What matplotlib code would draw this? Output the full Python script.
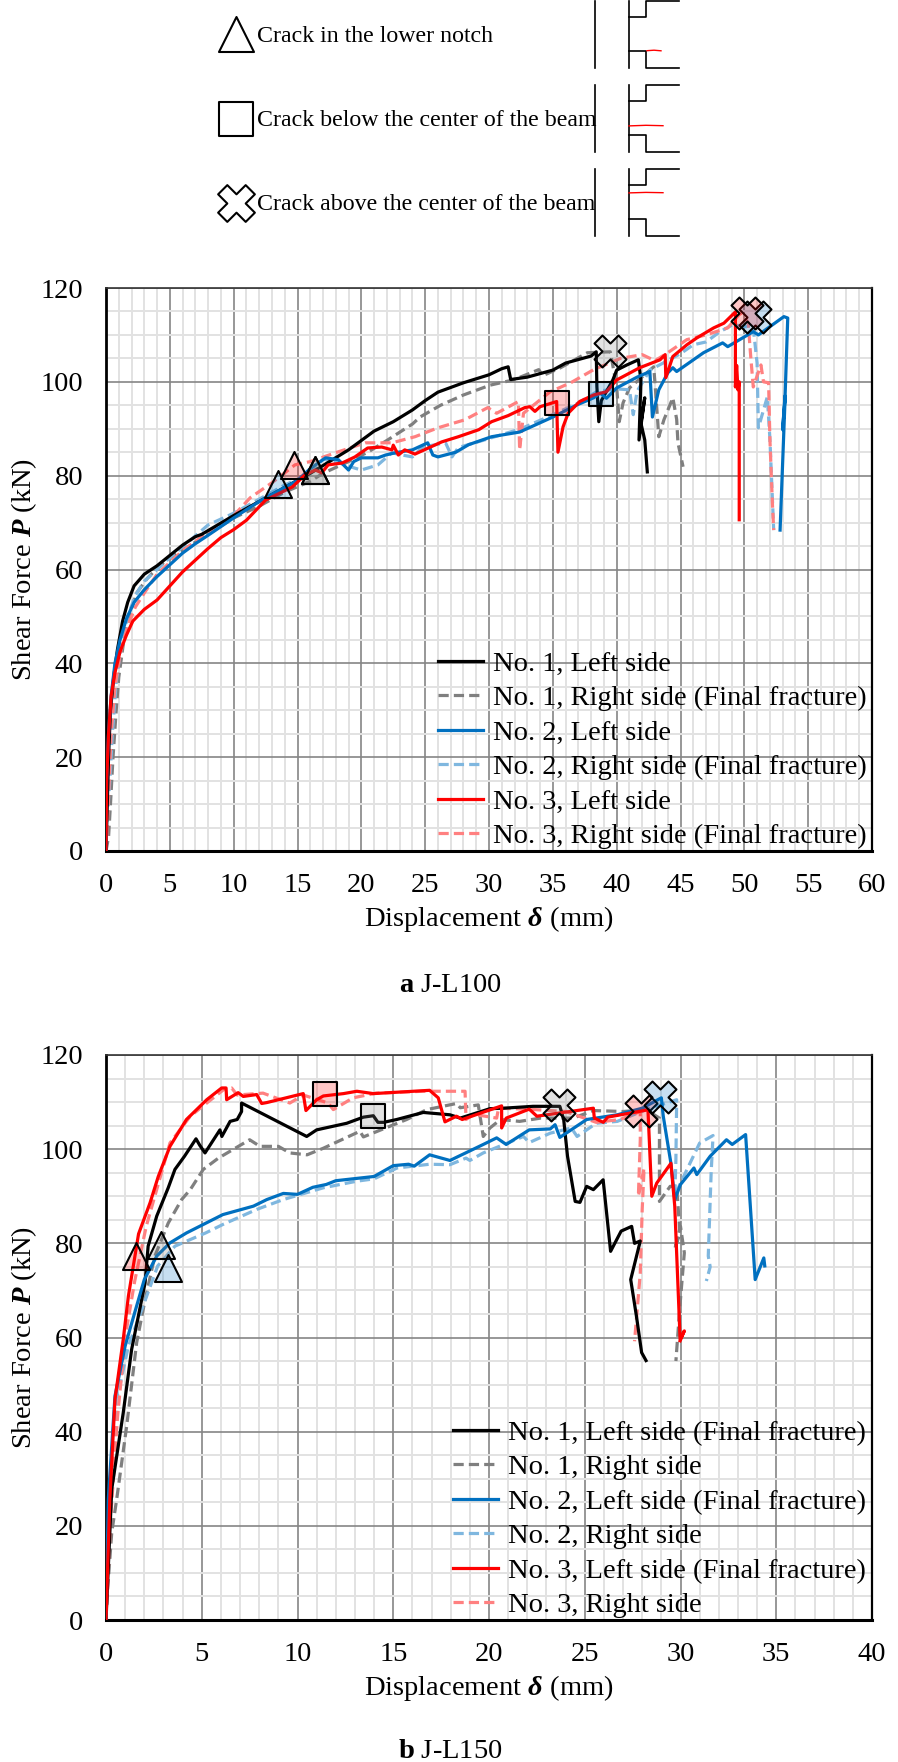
import matplotlib
matplotlib.use("Agg")
import matplotlib.pyplot as plt
from matplotlib.lines import Line2D

W, H = 898, 1762
plt.rcParams['font.family'] = ['Liberation Serif', 'DejaVu Serif']
plt.rcParams['mathtext.fontset'] = 'custom'
plt.rcParams['mathtext.rm'] = 'Liberation Serif'
plt.rcParams['mathtext.it'] = 'Liberation Serif:italic'
plt.rcParams['mathtext.bf'] = 'Liberation Serif:bold'
plt.rcParams['mathtext.bfit'] = 'Liberation Serif:italic:bold'

# ---- chart a: J-L100 ----
a1L_x = [0,0.1,0.2,0.35,0.6,0.9,1.3,1.7,2.2,3,4,5,6,7,7.5,10,12,14,16,17.5,19,20,21,22.5,24,25,26,27,28,30,31,31.5,31.7,33,35,36,38,38.4,38.45,38.6,38.8,39.7,40,40.8,41.7,41.9,41.75,42.2,41.9,42.2,42.4]
a1L_y = [0,10,20,30,37,43,49,53,56.5,59,60.8,63,65.2,67,67.5,71.5,74.5,77.5,80.5,83,85.5,87.5,89.5,91.5,94,96,97.8,98.8,99.8,101.5,102.8,103.2,100.5,101,102.5,104,105.5,106.4,99,91.5,96,100.4,102.5,103.6,104.7,100.4,87.6,96.6,91.2,87.6,80.8]
a1R_x = [0,0.2,0.35,0.55,0.8,1,1.4,1.8,2.4,3.2,4,5,6.5,8,10,12,14,16,17,19,20.5,22,24,24.6,26.2,28,30.1,31.9,33.9,34.2,35.6,37.7,39.5,40,40.2,40.5,41,42.9,43,43.3,43.7,44.4,44.7,44.8,45.2]
a1R_y = [0,3,10,20,30,37,45,50,55,58,60.3,62.5,65,67.5,71,73.5,76.5,78.8,80.5,83,85,87.5,91,92.5,95,97.2,99.3,100.4,102.6,101.3,103,106.2,106.4,99,91.5,95.5,98.7,103.2,99.8,88.3,91.9,96.6,92,87,81.9]
a2L_x = [0,0.05,0.2,0.4,0.7,1.1,1.6,2.2,3,4,5,6,7,8,10,12,14,15,16,17.2,18.2,19,19.4,20,21.3,21.9,22.7,24,25.2,25.6,26,27.4,28.4,30.2,32.4,35,36.9,38.2,38.7,39.2,40,41.6,42.6,42.8,43.3,44,44.4,44.7,46.8,48.3,48.7,50.7,51.1,53.1,53.4,53.2,53,53.2,52.8]
a2L_y = [0,15,25,33,40,45,49.5,53,55.7,58.5,61,63.5,65.5,67.3,71,74.5,77.5,79,81.5,83.8,83.4,81.2,83,83.8,83.8,84.4,84.9,85.5,87,84.4,84,85,86.6,88.3,89.3,92.5,95.1,96.6,97.6,96.5,98.7,101,102.2,92.5,98.3,101.9,103,102.2,106.2,108.3,107.5,110.7,110,113.9,113.6,97.6,89.8,97,68.4]
a2R_x = [0,0.3,0.5,0.8,1.2,1.7,2.3,3,4,5,6.5,8,10,12,14,16,17,18,19,20,21.3,22.4,23,24,24.8,26.6,27.1,27.6,29.5,32.5,35,37,38.5,40,41,41.3,41.6,42.6,45,46,47,48.1,49.1,50.7,51,51.1,51.8,52,52.3]
a2R_y = [3,15,25,36,44,50,54.5,57.5,60,62.5,66,69.5,72,75,78,80.5,83.5,83,82,81.2,82.3,84.9,84.5,84,86.1,87,84,86,87.5,90,93,95.5,98,98.5,98.3,93,98,102.5,106,107.9,108.5,110.7,112.2,111.5,104,90.2,96.8,88,68.4]
a3L_x = [0,0.05,0.2,0.4,0.7,1.1,1.6,2.1,3,4,5,6,7,8,9,10,11,12.5,14.6,15.6,16.4,16.9,17.4,18.5,19.5,20.5,21.6,22.4,22.5,22.9,23.4,24.2,26.3,27.6,29.2,30.2,31.5,32.8,33.2,33.6,34,35.3,35.4,35.8,36.2,37.1,38.2,39.2,40,41.8,43.4,43.8,43.85,44.4,45.5,46.3,47.6,48.4,49.3,49.3,49.4,49.5,49.6,49.6]
a3L_y = [0,15,25,33,38,42.5,46,49,51.5,53.5,56.5,59.5,62,64.5,66.8,68.5,70.5,74.8,77.6,80.2,81.2,80.6,82.3,82.7,84,85.9,86.1,85.5,86.5,84.4,85.5,84.6,87.2,88.3,89.8,91.5,92.8,94.5,94.7,93.7,94.7,95.8,85,90.4,93.3,95.8,97.2,97.9,100.4,103,104.7,105.8,100.9,105.4,107.9,109.4,111.5,112.5,114.9,98.9,103.5,98.3,100,70.6]
a3R_x = [0,0.1,0.4,0.7,1.1,1.7,2.3,3,4,5,6,7,8,10,11.3,13,14.8,16,18,20.3,22.4,24.2,26,28.1,29.9,30.6,32.3,32.4,32.7,34.8,36.4,38.2,40.3,42,43,44,45.5,47,48.7,49.7,50.3,50.5,50.7,51.3,51.5,51.9,52,52.2,52.3]
a3R_y = [0,5,25,35,42,48,52,55,59,61.5,64,66,68,71.5,75.3,78.5,82.3,83,84.9,87,87,88.3,90.2,91.9,94.5,93.3,95.8,85.5,93.3,97.9,99.8,102.6,105,105.8,104.5,106.2,109,110,111.5,114.7,112.6,105.4,98.9,103.6,100,99.8,88,74,68.4]

a_tri_x = [13.5, 16.4, 16.4, 14.7]
a_tri_y = [78.3, 81.3, 81.3, 82.3]
a_tri_c = ['#0070C0', '#7F7F7F', '#7F7F7F', '#FF0000']
a_sq_x = [38.8, 35.3]
a_sq_y = [97.5, 95.5]
a_sq_c = ['#0070C0', '#FF0000']
a_x_x = [39.5, 50.8, 50.2]
a_x_y = [106.6, 113.9, 114.7]
a_x_c = ['#7F7F7F', '#0070C0', '#FF0000']

# ---- chart b: J-L150 ----
b1L_x = [0,0.3,0.9,1.34,2.04,2.2,2.65,3.25,3.6,4.1,4.7,4.9,5.17,5.95,6.05,6.48,6.85,7.08,7.08,10.48,11,12.57,13.44,13.96,14.2,14.5,15.18,16.57,17.96,18.5,20.05,20.75,22.3,23.7,23.9,24.1,24.5,24.75,25.1,25.45,25.96,26.35,26.9,27.45,27.6,27.9,27.4,27.7,27.97,28.2]
b1L_y = [0,27.8,44,57.5,71.6,79.4,85.8,91.8,95.7,98.5,102.2,100.8,99.2,104.1,102.7,105.9,106.3,108,109.8,102.7,104.1,105.5,106.8,107.1,105.7,105.7,106.3,107.8,107.3,106.6,108.6,108.7,109.1,109.1,106.3,98.5,88.9,88.7,92.1,91.4,93.5,78.3,82.6,83.6,80,80.5,72.3,64.5,56.8,55.1]
b1R_x = [0,0.05,0.3,0.56,1.08,1.6,2.04,2.55,3.25,3.95,4.4,5.08,5.87,7.5,8.04,9,9.6,10.5,11.35,13.26,13.44,15.7,16.75,18.3,18.5,19.44,19.7,20.05,20.6,21.6,22.7,24.4,25.45,27,28.2,28.9,28.9,29.46,29.8,29.97,29.7,30,30.2,29.97,29.76]
b1R_y = [0,4.5,18.6,25.7,41.2,58.9,68,77.3,84.3,89.3,91.4,95.7,98.1,102,100.6,100.6,99.2,98.8,100.2,103.8,102.6,106.3,108.4,109.7,108.8,109.4,102.7,104.5,106.3,105.9,106.6,106.6,108.2,108,108.4,106.6,88.9,92.1,92.1,82.2,78.7,83.6,78,66.7,55]
b2L_x = [0,0.12,0.47,1,1.5,2,2.65,3.34,4.2,6.1,7.7,8.4,9.26,10,10.8,11.5,12,14,15,15.8,16.1,16.9,17.96,19.7,20.4,20.9,22.1,23.2,23.45,23.7,25.1,26.7,28,29,29.1,29.5,29.7,30,30.7,30.85,31.55,32.4,32.7,33.4,33.9,34.35,34.4]
b2L_y = [0,25.7,47.6,58.2,65.3,72.3,77.3,80.1,82.2,86.1,87.9,89.3,90.6,90.4,91.9,92.5,93.3,94.2,96.5,96.8,96.4,98.8,97.6,101,102.4,101,104.1,104.3,105.2,102.5,106.3,107.3,108.7,110.9,107,97,89.3,92.5,96,94.6,98.5,102,101,103.1,72.3,76.9,75.2]
b2R_x = [0,0.2,0.56,0.6,1.17,2,2.7,3.6,5.2,6.1,7.87,9.26,11.35,13.1,14,15.2,16.9,17.96,18.8,19,19.7,21.8,22.1,23.2,24.3,24.6,25.6,26.7,28.2,29.8,29.76,29.7,30,31,31.7,31.6,31.45,31.55,31.35]
b2R_y = [0,22,49,47.5,58.2,67.4,75.2,79.4,82.2,84,87.2,89.3,91.8,93.2,93.7,96,96.8,96.7,98.1,97.6,99.2,102.7,101.4,103.4,104.5,102.7,105.5,105.9,108.4,110.5,97.8,90,92.8,101.3,102.9,95,77.3,75,72]
b3L_x = [0,0.2,0.47,0.9,1.17,1.7,2.3,2.73,3.34,4.2,5.26,6.04,6.27,6.3,6.9,7.17,7.87,8.13,8.4,10.3,10.44,11,11.35,12.4,13.1,13.96,16.9,17.35,17.7,18.3,18.6,20.66,20.66,20.9,22.1,22.5,25.45,25.5,25.97,26.2,28.1,28.3,28.5,28.76,29.5,29.7,29.98,30.2,29.98]
b3L_y = [0,25.7,46.9,59.6,68.8,82,88.6,94.2,100.6,106.3,110.5,113,113,110.5,112,111.2,111.6,109.7,109.9,111.8,108.2,110.5,111.3,111.8,112.3,111.8,112.5,110.9,105.8,107,106.3,109.2,104.5,106.6,108.5,107,108.7,106.6,105.7,106.8,108.2,108.4,90,92.8,97,87.9,59.6,61.4,59.3]
b3R_x = [0,0.25,0.6,1,1.5,2.1,3.34,4.4,5.26,6.13,6.56,6.85,8.2,9.6,10.3,11.6,11.87,12.9,14.1,16.57,18.75,18.8,19.2,20.4,20.5,22,24,25.6,26.85,27.9,27.9,27.8,28.1,28,27.9,27.6]
b3R_y = [0,22,43,60,72,83.6,101.3,107,109.8,112.6,113,111.5,111.9,109.8,111.5,109.8,108.4,110.9,111.9,112.3,112.3,106.3,107.4,106.6,108.7,108.5,108,105.7,106.3,108,102,90,96,87.2,73.7,59.2]

b_tri_x = [1.57, 2.85, 3.25]
b_tri_y = [77.3, 79.7, 74.7]
b_tri_c = ['#FF0000', '#7F7F7F', '#0070C0']
b_sq_x = [11.44, 13.96]
b_sq_y = [111.8, 107.1]
b_sq_c = ['#FF0000', '#7F7F7F']
b_x_x = [23.64, 27.95, 28.95]
b_x_y = [109.4, 108.2, 111.0]
b_x_c = ['#7F7F7F', '#FF0000', '#0070C0']

colors = ['#000000', '#7F7F7F', '#0070C0', '#7FB7DF', '#FF0000', '#FF8080']
styles = ['-', '--', '-', '--', '-', '--']
a_labels = ['No. 1, Left side', 'No. 1, Right side (Final fracture)',
            'No. 2, Left side', 'No. 2, Right side (Final fracture)',
            'No. 3, Left side', 'No. 3, Right side (Final fracture)']
b_labels = ['No. 1, Left side (Final fracture)', 'No. 1, Right side',
            'No. 2, Left side (Final fracture)', 'No. 2, Right side',
            'No. 3, Left side (Final fracture)', 'No. 3, Right side']
FS = 20.5
LW = 2.3


def px_box(l, t, r, b):
    return [l / W, 1 - b / H, (r - l) / W, (b - t) / H]


def panel(box, xmax, xstep, series, markers, labels, leg_anchor, ylabel_x):
    ax = fig.add_axes(px_box(*box))
    ax.set_xlim(0, xmax)
    ax.set_ylim(0, 120)
    ax.set_xticks(range(0, xmax + 1, xstep))
    ax.set_yticks(range(0, 121, 20))
    ax.set_xticks(range(0, xmax + 1, 1), minor=True)
    ax.set_yticks(range(0, 121, 5), minor=True)
    ax.grid(which='minor', color='#E2E2E2', lw=1.4, zorder=0)
    ax.grid(which='major', color='#858585', lw=1.2, zorder=1)
    ax.set_axisbelow(True)
    ax.tick_params(which='both', length=0)
    ax.tick_params(axis='x', labelsize=FS, pad=15.5)
    ax.tick_params(axis='y', labelsize=FS, pad=16.5)
    for s, w, c in [('left', 2.0, 'k'), ('bottom', 2.2, 'k'), ('right', 1.6, 'k'), ('top', 1.2, '#333333')]:
        ax.spines[s].set_linewidth(w)
        ax.spines[s].set_color(c)
    handles = []
    for i, ((x, y), c, st, lab) in enumerate(zip(series, colors, styles, labels)):
        z = 3 + i if st == '-' else 2 + i * 0.1
        if st == '-':
            ax.plot(x, y, color=c, lw=LW, zorder=z, solid_joinstyle='round')
            handles.append(Line2D([], [], color=c, lw=LW, label=lab))
        else:
            ax.plot(x, y, color=c, lw=LW, dashes=(3.2, 1.6), zorder=z)
            handles.append(Line2D([], [], color=c, lw=LW, dashes=(3.2, 1.6), label=lab))
    for mx, my, mc, m, s in markers:
        for xx, yy, cc in zip(mx, my, mc):
            ax.scatter([xx], [yy], marker=m, s=s, facecolor=matplotlib.colors.to_rgba(cc, 0.22),
                       edgecolor='k', linewidth=1.5, zorder=12, clip_on=False)
    ax.legend(handles=handles, loc='lower left', bbox_to_anchor=leg_anchor, frameon=False,
              fontsize=FS, handlelength=1.58, handletextpad=0.35, labelspacing=0.3,
              borderpad=0, borderaxespad=0)
    ax.set_xlabel(r'Displacement $\mathbfit{\delta}$ (mm)', fontsize=FS, labelpad=5)
    ax.set_ylabel(r'Shear Force $\mathbfit{P}$ (kN)', fontsize=FS)
    ax.yaxis.set_label_coords(ylabel_x, 0.5)
    return ax


fig = plt.figure(figsize=(W / 100, H / 100), dpi=100, facecolor='white')

# header key drawn in pixel coordinates
key = fig.add_axes([0, 0, 1, 1], zorder=0)
key.set_xlim(0, W)
key.set_ylim(H, 0)
key.axis('off')
key_labels = ['Crack in the lower notch', 'Crack below the center of the beam', 'Crack above the center of the beam']
key_markers = ['^', 's', 'X']
key_sizes = [635, 635, 700]
key_mark_y = [34, 119, 203]
key_text_y = [36, 120.5, 204.5]
for lab, m, s, my, ty in zip(key_labels, key_markers, key_sizes, key_mark_y, key_text_y):
    key.scatter([235.5], [my], marker=m, s=s, facecolor='white', edgecolor='k', linewidth=1.5)
    key.text(257, ty, lab, fontsize=17.2, va='center', ha='left')
panel_tops = [1, 85, 169]
crack_x = [[647, 654, 661], [629, 646, 663], [629, 646, 663]]
crack_y = [[50.7, 50.2, 50.8], [125.9, 125.3, 125.7], [192.9, 192.4, 192.7]]
for t, cx, cy in zip(panel_tops, crack_x, crack_y):
    key.plot([595.3, 595.3], [t, t + 67], color='k', lw=1.2)
    key.plot([629, 629], [t, t + 67], color='k', lw=1.2)
    key.plot([629, 646, 646, 679], [t + 16, t + 16, t, t], color='k', lw=1.2)
    key.plot([629, 646, 646, 679], [t + 50, t + 50, t + 67, t + 67], color='k', lw=1.2)
    key.plot(cx, cy, color='#FF0000', lw=1.0)

a_series = [(a1L_x, a1L_y), (a1R_x, a1R_y), (a2L_x, a2L_y), (a2R_x, a2R_y), (a3L_x, a3L_y), (a3R_x, a3R_y)]
b_series = [(b1L_x, b1L_y), (b1R_x, b1R_y), (b2L_x, b2L_y), (b2R_x, b2R_y), (b3L_x, b3L_y), (b3R_x, b3R_y)]
a_mark = [(a_tri_x, a_tri_y, a_tri_c, '^', 378), (a_sq_x, a_sq_y, a_sq_c, 's', 285), (a_x_x, a_x_y, a_x_c, 'X', 530)]
b_mark = [(b_tri_x, b_tri_y, b_tri_c, '^', 378), (b_sq_x, b_sq_y, b_sq_c, 's', 285), (b_x_x, b_x_y, b_x_c, 'X', 530)]

panel((106, 288, 872, 851), 60, 5, a_series, a_mark, a_labels, (0.4334, 0.003), -0.088)
panel((106, 1055, 872, 1620), 40, 5, b_series, b_mark, b_labels, (0.4525, 0.003), -0.088)

key.text(450, 985, r'$\mathbf{a}$ J-L100', fontsize=FS, ha='center', va='center')
key.text(450, 1751, r'$\mathbf{b}$ J-L150', fontsize=FS, ha='center', va='center')

fig.savefig('out.png', dpi=100)
